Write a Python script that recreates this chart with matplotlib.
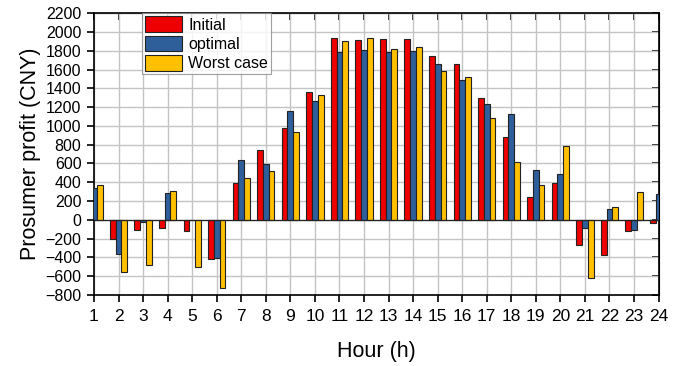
import numpy as np
import matplotlib
matplotlib.use("Agg")
import matplotlib.pyplot as plt

plt.rcParams["font.family"] = ["Liberation Sans", "DejaVu Sans"]

hours = np.arange(1, 25)
initial = [300, -199, -106, -89, -114, -419, 397, 745, 983, 1363, 1934, 1913,
           1920, 1927, 1746, 1661, 1299, 884, 245, 390, -263, -373, -124, -35]
optimal = [337, -366, -28, 291, 0, -408, 635, 596, 1157, 1267, 1785, 1806,
           1789, 1799, 1657, 1490, 1231, 1125, 532, 486, -82, 117, -110, 270]
worst = [369, -550, -486, 302, -497, -727, 444, 522, 937, 1327, 1902, 1941,
         1817, 1838, 1586, 1522, 1089, 614, 369, 788, -621, 138, 295, 300]

series = [("Initial", initial, "#ee0000"),
          ("optimal", optimal, "#2e5f9b"),
          ("Worst case", worst, "#ffc000")]

fig = plt.figure(figsize=(6.81, 3.66), dpi=100)
ax = fig.add_axes([0.138, 0.194, 0.829, 0.770])

w = 0.235
for i, (label, vals, color) in enumerate(series):
    ax.bar(hours + (i - 1) * w, vals, width=w, color=color,
           edgecolor="#222222", linewidth=0.8, label=label, zorder=3)

ax.axhline(0, color="#222222", linewidth=0.9, zorder=4)
ax.set_xlim(1, 24)
ax.set_ylim(-800, 2200)
ax.set_xticks(hours)
ax.set_yticks(np.arange(-800, 2201, 200))
ax.grid(True, color="#c4c4c4", linewidth=1.0, zorder=0)
ax.tick_params(direction="out", length=5, width=1.2)
ax.tick_params(axis="x", labelsize=12.5, pad=5)
ax.tick_params(axis="y", labelsize=11.5, pad=4)
for s in ax.spines.values():
    s.set_linewidth(1.2)

# mirrored ticks pointing inward on the top and right
top = ax.secondary_xaxis("top")
top.set_xticks(hours)
top.tick_params(direction="in", labeltop=False, length=5, width=1.2)
right = ax.secondary_yaxis("right")
right.set_yticks(np.arange(-800, 2201, 200))
right.tick_params(direction="in", labelright=False, length=5, width=1.2)

ax.set_xlabel("Hour (h)", fontsize=15.5, labelpad=12)
ax.set_ylabel("Prosumer profit (CNY)", fontsize=15.5, labelpad=3)

leg = ax.legend(loc="upper left", bbox_to_anchor=(0.085, 1.0), fontsize=11.5,
                frameon=True, fancybox=False, borderpad=0.2,
                handlelength=2.3, handleheight=1.15, handletextpad=0.4,
                labelspacing=0.18, borderaxespad=0.0)
leg.get_frame().set_edgecolor("#888888")
leg.get_frame().set_linewidth(0.8)
leg.set_zorder(5)

fig.savefig("out.png", dpi=100)
